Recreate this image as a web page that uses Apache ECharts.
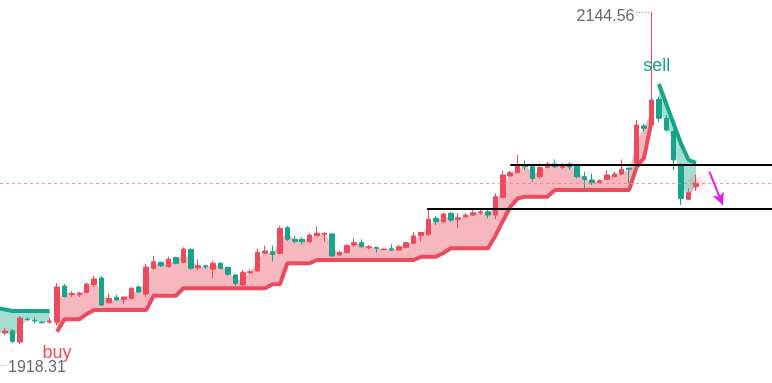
<!DOCTYPE html>
<html>
<head>
<meta charset="utf-8">
<script src="https://cdn.jsdelivr.net/npm/echarts@6/dist/echarts.min.js"></script>
<style>html,body{margin:0;padding:0;background:#fff}#chart{width:772px;height:383px}</style>
</head>
<body>
<div id="chart"></div>
<script>
// ---- data (index 0 is the bar just left of the view) ----
const opens = [
  1936.0,
  1938.8,1940.1,1933.0,1947.8,1946.9,1945.8,1945.8,1945.8,1968.9,1963.5,
  1963.2,1964.8,1969.9,1974.0,1958.2,1961.7,1960.4,1961.0,1968.3,1963.8,
  1980.3,1984.1,1981.3,1987.1,1984.1,1992.4,1980.6,1981.9,1979.8,1983.5,
  1980.9,1976.0,1969.6,1977.4,1978.5,1989.9,1990.9,1989.9,2006.3,1998.9,
  1998.9,1997.3,2001.2,2002.1,2002.3,1988.8,1990.3,1995.2,1996.7,1993.5,
  1993.7,1992.2,1992.8,1992.0,1993.7,1996.3,2001.2,2002.1,2012.3,2010.1,
  2015.5,2011.7,2013.3,2014.4,2015.9,2016.5,2014.4,2025.8,2039.4,2041.5,
  2046.5,2045.4,2039.0,2045.0,2047.1,2045.0,2047.1,2045.8,2039.0,2036.9,
  2035.2,2037.3,2039.0,2040.7,2044.4,2047.6,2071.5,2072.1,2088.6,2076.4,
  2067.8,2045.8,2024.5,2032.7
];
const closes = [
  1939.0,
  1940.1,1933.4,1948.4,1947.3,1946.5,1945.4,1946.5,1968.3,1962.2,1964.1,
  1964.4,1970.2,1973.4,1956.7,1961.0,1960.0,1961.9,1967.5,1965.1,1981.1,
  1984.5,1981.9,1986.2,1983.5,1992.6,1980.3,1981.9,1981.3,1983.5,1980.3,
  1976.4,1970.6,1977.7,1978.1,1990.5,1991.4,1989.2,2005.9,1998.9,1997.6,
  1997.3,2001.6,2002.7,2002.7,1988.2,1990.5,1994.8,1996.7,1994.1,1994.1,
  1993.1,1992.6,1992.0,1994.1,1996.7,2001.0,2003.2,2011.7,2010.1,2015.1,
  2011.2,2012.7,2014.4,2015.9,2016.5,2014.4,2026.2,2040.1,2041.5,2046.5,
  2045.4,2037.9,2045.0,2047.1,2045.4,2046.5,2045.2,2039.0,2037.3,2035.2,
  2036.4,2040.1,2040.7,2043.7,2043.7,2072.1,2070.0,2088.15,2076.4,2068.9,
  2049.7,2025.1,2028.7,2034.8
];
const highs = [
  1941.0,
  1942.0,1941.4,1949.7,1948.7,1949.0,1946.5,1948.4,1970.8,1970.2,1965.7,
  1965.1,1971.2,1975.3,1975.3,1964.1,1963.2,1962.1,1968.1,1969.3,1983.0,
  1988.3,1984.5,1987.7,1987.7,1993.7,1993.1,1986.0,1982.1,1985.0,1983.9,
  1981.3,1976.4,1979.2,1979.6,1993.1,1994.8,1994.8,2007.6,2007.4,2001.0,
  2000.1,2002.7,2006.9,2003.4,2002.7,1991.6,1995.7,1999.5,1998.9,1995.2,
  1993.9,1992.8,1995.7,1995.2,1997.3,2003.7,2003.7,2018.1,2013.8,2015.9,
  2016.5,2015.5,2015.5,2017.6,2017.6,2017.6,2028.3,2042.8,2042.8,2052.9,
  2049.6,2046.5,2047.6,2048.6,2050.1,2047.6,2048.0,2046.5,2042.2,2041.1,
  2037.3,2043.3,2042.2,2050.1,2045.0,2075.3,2072.7,2144.56,2090.2,2078.5,
  2068.9,2047.6,2031.5,2040.1
];
const lows = [
  1918.31,
  1937.5,1932.4,1931.7,1946.5,1944.9,1944.9,1944.6,1943.9,1961.5,1961.9,
  1961.9,1964.1,1968.3,1956.1,1957.7,1959.5,1957.4,1960.4,1964.4,1961.9,
  1979.2,1981.1,1980.6,1982.8,1983.5,1979.2,1979.2,1979.8,1973.9,1979.6,
  1975.5,1968.5,1969.1,1976.4,1978.1,1989.6,1984.5,1989.2,1998.0,1996.3,
  1995.8,1996.7,2001.0,1997.3,1987.7,1988.3,1989.9,1994.1,1993.1,1992.4,
  1990.3,1992.0,1991.4,1991.6,1993.1,1995.7,1997.3,2001.0,2008.0,2009.5,
  2010.1,2005.9,2012.9,2013.8,2014.4,2012.3,2011.7,2025.1,2039.0,2041.1,
  2043.3,2035.8,2037.9,2044.4,2044.4,2043.7,2043.3,2037.9,2031.6,2033.7,
  2034.8,2036.9,2038.6,2040.1,2034.8,2047.1,2067.8,2071.5,2074.2,2067.8,
  2043.3,2020.9,2024.05,2029.8
];
const superTrend = [
  1954.8,
  1953.9,1952.9,1952.9,1952.9,1952.9,1952.9,1952.9,1939.6,1947.6,1947.6,
  1947.6,1951.0,1953.5,1953.5,1953.5,1953.5,1953.5,1953.5,1953.5,1953.5,
  1962.7,1962.7,1962.7,1962.7,1967.5,1967.5,1967.5,1967.5,1967.5,1967.5,
  1967.5,1967.5,1967.5,1967.5,1967.5,1967.5,1970.0,1970.0,1983.5,1983.5,
  1983.5,1983.5,1985.6,1985.6,1985.6,1985.6,1985.6,1985.6,1985.6,1985.6,
  1985.6,1985.6,1985.6,1985.6,1985.6,1985.6,1987.7,1987.7,1987.7,1990.1,
  1993.1,1993.1,1993.1,1993.1,1993.1,1993.1,2001.0,2010.6,2019.6,2025.0,
  2026.2,2026.2,2026.2,2026.2,2030.5,2030.5,2030.5,2030.5,2030.5,2030.5,
  2030.5,2030.5,2030.5,2030.5,2030.5,2045.2,2051.0,2074.0,2098.4,2085.6,
  2072.8,2060.0,2049.7,2047.8
];
const buyIndex = 8;          // trend turns up here
const sellIndex = 89;        // trend turns down here
const highMark = 2144.56;
const lowMark = 1918.31;
const levelPrices = [2046.8, 2018.5];
const levelStarts = [69, 57.8];
const arrowFrom = [95.8, 2042.2];
const arrowTo = [97.6, 2020.9];

// ---- view ----
const RED = '#EB4B5C', TEAL = '#14A58A';
const FILL_RED = 'rgba(235,75,92,0.40)', FILL_TEAL = 'rgba(20,165,138,0.38)';
const FONT = 'Liberation Sans';
const X_MIN = 0.327, X_MAX = 104.23;
const Y_MIN = 1906.75, Y_MAX = 2152.25;

const N = opens.length;
const highIdx = highs.indexOf(highMark);
const lowIdx = lows.indexOf(lowMark);
const lowX = Math.max(lowIdx, X_MIN + 0.2);
const isUp = i => i >= buyIndex && i < sellIndex;
const mids = opens.map((o, i) => (o + closes[i]) / 2);
const candleData = opens.map((o, i) => [i, o, closes[i], lows[i], highs[i]]);
const upLine = superTrend.map((v, i) => [i, isUp(i) ? v : '-']);
const dnLine = superTrend.map((v, i) => [i, !isUp(i) ? v : '-']);
const segments = [[0, buyIndex - 1], [buyIndex, sellIndex - 1], [sellIndex, N - 1]];

function smoothPath(pts, t) {
  let d = '';
  for (let i = 0; i < pts.length - 1; i++) {
    const p0 = pts[Math.max(i - 1, 0)], p1 = pts[i], p2 = pts[i + 1], p3 = pts[Math.min(i + 2, pts.length - 1)];
    const c1 = [p1[0] + (p2[0] - p0[0]) / 6 * t, p1[1] + (p2[1] - p0[1]) / 6 * t];
    const c2 = [p2[0] - (p3[0] - p1[0]) / 6 * t, p2[1] - (p3[1] - p1[1]) / 6 * t];
    d += 'C' + c1[0] + ' ' + c1[1] + ' ' + c2[0] + ' ' + c2[1] + ' ' + p2[0] + ' ' + p2[1];
  }
  return d;
}

const chart = echarts.init(document.getElementById('chart'));
chart.setOption({
  animation: false,
  grid: { left: 0, right: 0, top: 0, bottom: 0 },
  xAxis: { type: 'value', min: X_MIN, max: X_MAX, show: false },
  yAxis: { type: 'value', min: Y_MIN, max: Y_MAX, show: false },
  series: [
    {
      type: 'custom', data: segments, z: 1, silent: true, clip: true,
      renderItem: (params, api) => {
        const a = api.value(0), b = api.value(1);
        const st = [], md = [];
        for (let i = a; i <= b; i++) {
          st.push(api.coord([i, superTrend[i]]));
          md.push(api.coord([i, mids[i]]));
        }
        let d = 'M' + st[0][0] + ' ' + st[0][1];
        for (let k = 1; k < st.length; k++) d += 'L' + st[k][0] + ' ' + st[k][1];
        const rev = md.reverse();
        d += 'L' + rev[0][0] + ' ' + rev[0][1] + smoothPath(rev, 0.9) + 'Z';
        return { type: 'path', shape: { pathData: d }, style: { fill: isUp(a) ? FILL_RED : FILL_TEAL, stroke: null } };
      }
    },
    { type: 'scatter', data: [[N - 1, closes[N - 1]]], symbolSize: 24, z: 2, silent: true,
      itemStyle: { color: { type: 'radial', x: 0.5, y: 0.5, r: 0.5,
        colorStops: [{ offset: 0, color: 'rgba(235,75,92,0.35)' }, { offset: 0.6, color: 'rgba(235,75,92,0.12)' }, { offset: 1, color: 'rgba(235,75,92,0)' }] } } },
    {
      type: 'candlestick', data: candleData, barWidth: 5, z: 3, silent: true,
      itemStyle: { color: RED, color0: TEAL, borderColor: RED, borderColor0: TEAL, borderWidth: 1 },
      markLine: {
        silent: true, symbol: ['none', 'none'], label: { show: false }, animation: false,
        data: [
          { yAxis: closes[N - 1], lineStyle: { color: '#EC7F8C', type: [3, 3], width: 1, opacity: 0.8 } },
          [{ coord: [levelStarts[0], levelPrices[0]], lineStyle: { color: '#000', width: 2, type: 'solid' } }, { coord: [X_MAX, levelPrices[0]] }],
          [{ coord: [levelStarts[1], levelPrices[1]], lineStyle: { color: '#000', width: 2, type: 'solid' } }, { coord: [X_MAX, levelPrices[1]] }],
          [{ coord: arrowFrom, symbol: 'none', lineStyle: { color: '#E81CE8', width: 2, type: 'solid' } }, { coord: arrowTo, symbol: 'arrow', symbolSize: [9, 12] }],
          [{ coord: [highIdx - 2.05, highMark], lineStyle: { color: '#8a8d96', width: 1, type: [1, 2] } }, { coord: [highIdx - 0.1, highMark] }],
          [{ coord: [lowX, lowMark], lineStyle: { color: '#8a8d96', width: 1, type: [1, 2] } }, { coord: [lowX + 0.6, lowMark] }]
        ]
      },
      markPoint: {
        silent: true, symbol: 'circle', symbolSize: 1, itemStyle: { color: 'rgba(0,0,0,0)' }, animation: false,
        data: [
          { coord: [buyIndex, superTrend[buyIndex]], label: { show: true, formatter: 'buy', position: 'inside', color: RED, fontSize: 18, fontFamily: FONT, offset: [0, 21] } },
          { coord: [sellIndex, superTrend[sellIndex]], label: { show: true, formatter: 'sell', position: 'inside', color: TEAL, fontSize: 18, fontFamily: FONT, offset: [-2, -18] } },
          { coord: [highIdx - 2.15, highMark], label: { show: true, formatter: String(highMark), position: 'inside', align: 'right', verticalAlign: 'middle', color: '#676a73', fontSize: 16, fontFamily: FONT, offset: [-1, 5] } },
          { coord: [lowX, lowMark], label: { show: true, formatter: String(lowMark), position: 'inside', align: 'left', verticalAlign: 'middle', color: '#676a73', fontSize: 16, fontFamily: FONT, offset: [6.5, 3] } }
        ]
      }
    },
    { type: 'line', data: upLine, symbol: 'none', lineStyle: { color: RED, width: 4 }, z: 4, silent: true },
    { type: 'line', data: dnLine, symbol: 'none', lineStyle: { color: TEAL, width: 4 }, z: 4, silent: true }
  ]
});
</script>
</body>
</html>
